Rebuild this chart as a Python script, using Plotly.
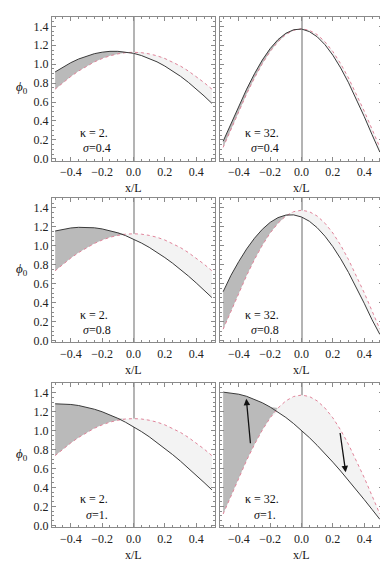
import numpy as np
import plotly.graph_objects as go

X_POS = [-0.5, -0.45, -0.4, -0.35, -0.3, -0.25, -0.2, -0.15, -0.1, -0.05, 0.0,
         0.05, 0.1, 0.15, 0.2, 0.25, 0.3, 0.35, 0.4, 0.45, 0.5]

# reference profile (dotted), one per kappa
PHI_REF_K2 = [0.736, 0.806, 0.870, 0.928, 0.980, 1.024, 1.060, 1.089, 1.109, 1.122, 1.126,
              1.122, 1.109, 1.089, 1.060, 1.024, 0.980, 0.928, 0.870, 0.806, 0.736]
PHI_REF_K32 = [0.120, 0.313, 0.505, 0.686, 0.854, 1.005, 1.134, 1.237, 1.313, 1.359, 1.374,
               1.359, 1.313, 1.237, 1.134, 1.005, 0.854, 0.686, 0.505, 0.313, 0.120]

# shifted profile (solid)
PHI_K2_S04 = [0.918, 0.971, 1.016, 1.055, 1.087, 1.111, 1.127, 1.136, 1.136, 1.129, 1.115,
              1.092, 1.062, 1.025, 0.980, 0.929, 0.872, 0.808, 0.739, 0.665, 0.586]
PHI_K2_S08 = [1.155, 1.174, 1.187, 1.194, 1.195, 1.189, 1.177, 1.159, 1.136, 1.106, 1.070,
              1.029, 0.983, 0.932, 0.875, 0.815, 0.750, 0.681, 0.608, 0.533, 0.454]
PHI_K2_S10 = [1.282, 1.281, 1.275, 1.264, 1.247, 1.225, 1.198, 1.166, 1.129, 1.087, 1.040,
              0.990, 0.935, 0.875, 0.813, 0.746, 0.677, 0.605, 0.530, 0.453, 0.375]
PHI_K32_S04 = [0.185, 0.371, 0.559, 0.736, 0.899, 1.044, 1.165, 1.260, 1.327, 1.364, 1.372,
               1.345, 1.290, 1.206, 1.095, 0.960, 0.804, 0.632, 0.447, 0.255, 0.070]
PHI_K32_S08 = [0.515, 0.688, 0.834, 0.966, 1.079, 1.173, 1.246, 1.296, 1.323, 1.325, 1.303,
               1.258, 1.190, 1.100, 0.990, 0.862, 0.718, 0.561, 0.394, 0.220, 0.065]
PHI_K32_S10 = [1.405, 1.398, 1.383, 1.361, 1.331, 1.293, 1.248, 1.196, 1.138, 1.073, 1.002,
               0.926, 0.844, 0.758, 0.667, 0.573, 0.476, 0.376, 0.273, 0.169, 0.064]

KAPPA_LABELS = ["κ = 2.", "κ = 32."]
SIGMA_LABELS = ["<i>σ</i>=0.4", "<i>σ</i>=0.8", "<i>σ</i>=1."]

# arrows in the last panel: (tail x, tail y, head x, head y)
ARROWS = [(-0.325, 0.85, -0.352, 1.335), (0.245, 0.99, 0.282, 0.56)]

PANELS = [
    (1, 1, PHI_K2_S04, PHI_REF_K2), (1, 2, PHI_K32_S04, PHI_REF_K32),
    (2, 1, PHI_K2_S08, PHI_REF_K2), (2, 2, PHI_K32_S08, PHI_REF_K32),
    (3, 1, PHI_K2_S10, PHI_REF_K2), (3, 2, PHI_K32_S10, PHI_REF_K32),
]

W, H = 388, 561
COL_PX = [(44, 207), (212, 375)]
ROW_PX = [(9, 154), (192, 337.5), (378.5, 524)]

DARK = "#bababa"
LIGHT = "#f3f3f3"
SOLID = "#3a3a3a"
DOTTED = "#e0849a"
FRAME = "#8a8a8a"
FONT = "Liberation Serif"


def px_x(p):
    return p / W


def px_y(p):
    return 1 - p / H


fig = go.Figure()
annotations = []

for idx, (row, col, solid, ref) in enumerate(PANELS, start=1):
    sfx = "" if idx == 1 else str(idx)
    xa, ya = f"x{sfx}", f"y{sfx}"
    solid_arr = np.array(solid)
    ref_arr = np.array(ref)
    upper = np.maximum(solid_arr, ref_arr)
    lower = np.minimum(solid_arr, ref_arr)
    common = dict(x=X_POS, xaxis=xa, yaxis=ya, showlegend=False, hoverinfo="skip")

    fig.add_trace(go.Scatter(y=ref, mode="lines", line=dict(width=0), **common))
    fig.add_trace(go.Scatter(y=upper, mode="lines", line=dict(width=0), fill="tonexty",
                             fillcolor=DARK, **common))
    fig.add_trace(go.Scatter(y=lower, mode="lines", line=dict(width=0), **common))
    fig.add_trace(go.Scatter(y=ref, mode="lines", line=dict(width=0), fill="tonexty",
                             fillcolor=LIGHT, **common))
    fig.add_trace(go.Scatter(y=ref, mode="lines", line=dict(color=DOTTED, width=1, dash="dot"), **common))
    fig.add_trace(go.Scatter(y=solid, mode="lines", line=dict(color=SOLID, width=1), **common))

    x0, x1 = COL_PX[col - 1]
    y0, y1 = ROW_PX[row - 1]
    tick_common = dict(
        ticks="inside", ticklen=4, tickcolor=FRAME, mirror="allticks", showline=True,
        linecolor=FRAME, linewidth=1, showgrid=False, fixedrange=True,
        tickfont=dict(family=FONT, size=12, color="#222"), tickformat=".1f",
        minor=dict(ticks="inside", ticklen=2, dtick=0.05, tickcolor=FRAME, showgrid=False),
    )
    fig.update_layout({
        f"xaxis{sfx}": dict(domain=[px_x(x0), px_x(x1)], range=[-0.52, 0.52], anchor=ya,
                            dtick=0.2, tick0=0, zeroline=True, zerolinecolor="#b4b4b4",
                            zerolinewidth=1.5, **tick_common),
        f"yaxis{sfx}": dict(domain=[px_y(y1), px_y(y0)], range=[-0.02, 1.5], anchor=xa,
                            dtick=0.2, tick0=0, zeroline=False, showticklabels=(col == 1),
                            **tick_common),
    })

    label_font = dict(family=FONT, size=12, color="#111")
    annotations.append(dict(x=-0.25, y=0.275, xref=xa, yref=ya, text=KAPPA_LABELS[col - 1],
                            showarrow=False, font=label_font))
    annotations.append(dict(x=-0.235, y=0.115, xref=xa, yref=ya, text=SIGMA_LABELS[row - 1],
                            showarrow=False, font=label_font))
    annotations.append(dict(x=px_x((x0 + x1) / 2), y=px_y(y1 + 28), xref="paper", yref="paper",
                            xanchor="center", yanchor="middle",
                            text="x/L", showarrow=False, font=dict(family=FONT, size=12, color="#111")))
    if col == 1:
        annotations.append(dict(x=px_x(14), y=0.75, xref="paper", yref=ya,
                                xanchor="center", yanchor="middle",
                                text="<i>ϕ</i><sub>0</sub>", showarrow=False,
                                font=dict(family=FONT, size=13, color="#111")))
    if idx == 6:
        for tx, ty, hx, hy in ARROWS:
            annotations.append(dict(x=hx, y=hy, ax=tx, ay=ty, xref=xa, yref=ya, axref=xa, ayref=ya,
                                    text="", showarrow=True, arrowhead=2, arrowsize=1,
                                    arrowwidth=1.3, arrowcolor="#111"))

fig.update_layout(
    width=W, height=H, autosize=False,
    margin=dict(l=0, r=0, t=0, b=0),
    paper_bgcolor="white", plot_bgcolor="white",
    annotations=annotations,
)

fig.write_html("out.html")
